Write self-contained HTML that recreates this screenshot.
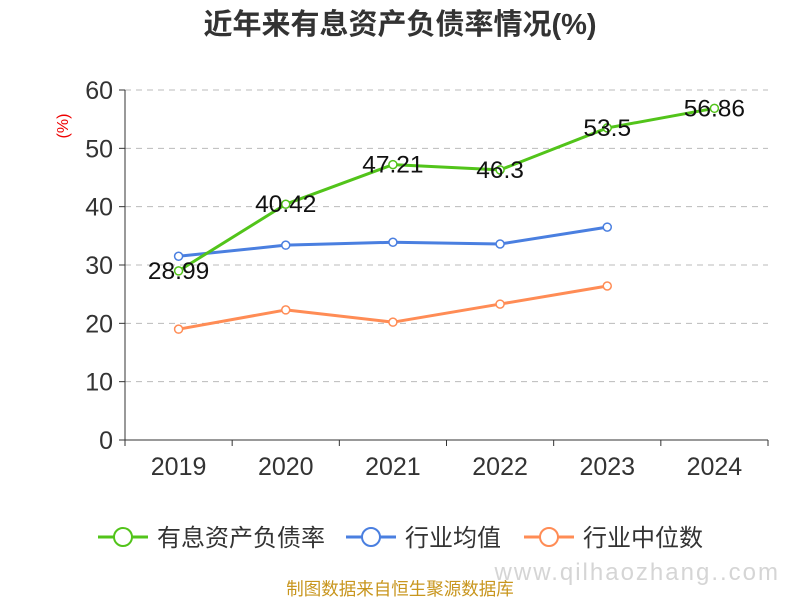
<!DOCTYPE html>
<html><head><meta charset="utf-8"><style>
body{margin:0;background:#fff;}
svg text{font-family:"Liberation Sans","Noto Sans CJK SC",sans-serif;}
</style></head><body>
<svg id="chart" width="800" height="600" xmlns="http://www.w3.org/2000/svg">
<text x="400" y="34" text-anchor="middle" font-size="29" font-weight="bold" fill="#333">近年来有息资产负债率情况(%)</text>
<text x="0" y="0" transform="translate(68,126) rotate(-90)" text-anchor="middle" font-size="16" fill="#e00">(%)</text>
<g id="grid"></g><g id="axes"></g><g id="series"></g>
<g>
 <g><line x1="98" y1="537" x2="148" y2="537" stroke="#52c41a" stroke-width="3"/><circle cx="123" cy="537" r="9" fill="#fff" stroke="#52c41a" stroke-width="2"/><text x="157" y="546" font-size="24" fill="#333">有息资产负债率</text></g>
 <g><line x1="346" y1="537" x2="396" y2="537" stroke="#4a7fe0" stroke-width="3"/><circle cx="371" cy="537" r="9" fill="#fff" stroke="#4a7fe0" stroke-width="2"/><text x="405" y="546" font-size="24" fill="#333">行业均值</text></g>
 <g><line x1="524" y1="537" x2="574" y2="537" stroke="#ff8c55" stroke-width="3"/><circle cx="549" cy="537" r="9" fill="#fff" stroke="#ff8c55" stroke-width="2"/><text x="583" y="546" font-size="24" fill="#333">行业中位数</text></g>
</g>
<text x="400" y="595" text-anchor="middle" font-size="17.5" fill="#c8961e">制图数据来自恒生聚源数据库</text>
<text x="780" y="580" text-anchor="end" font-size="24" fill="#d5d5d5" letter-spacing="2">www.qilhaozhang..com</text>
</svg>
<script>
const categories=["2019","2020","2021","2022","2023","2024"];
const debtRatio=[28.99,40.42,47.21,46.3,53.5,56.86];
const industryAvg=[31.5,33.4,33.9,33.6,36.5];
const industryMedian=[19.0,22.3,20.2,23.3,26.4];
const yTicks=[0,10,20,30,40,50,60];
const NS="http://www.w3.org/2000/svg";
const L=125,R=768,T=90,B=440,yMax=60;
const bw=(R-L)/categories.length;
const xs=i=>L+bw*(i+0.5);
const ys=v=>B-(v/yMax)*(B-T);
function mk(tag,attrs,parent){const e=document.createElementNS(NS,tag);for(const k in attrs)e.setAttribute(k,attrs[k]);parent.appendChild(e);return e;}
const grid=document.getElementById('grid'),axes=document.getElementById('axes'),ser=document.getElementById('series');
yTicks.forEach(t=>{
 if(t>0){const g=mk('line',{x1:L,x2:R,y1:ys(t),y2:ys(t),stroke:'#bbb','stroke-dasharray':'6,5'},grid);
 
 }
 const tk=mk('line',{x1:L-6,x2:L,y1:ys(t),y2:ys(t),stroke:'#333'},axes);
 
 
 const tx=mk('text',{x:L-12,y:ys(t)+9,'text-anchor':'end','font-size':'25',fill:'#333'},axes);tx.textContent=t;
 
 
});
const ya=mk('line',{x1:L,x2:L,y1:T,y2:B,stroke:'#333'},axes);


const xa=mk('line',{x1:L,x2:R,y1:B,y2:B,stroke:'#333'},axes);


for(let i=0;i<=categories.length;i++){const tk=mk('line',{x1:L+bw*i,x2:L+bw*i,y1:B,y2:B+6,stroke:'#333'},axes);
 
 }
categories.forEach((c,i)=>{const tx=mk('text',{x:xs(i),y:B+35,'text-anchor':'middle','font-size':'25',fill:'#333'},axes);tx.textContent=c;
 
 });
function series(vals,color,name,labels){
 const g=mk('g',{},ser);
 
 
 const p=mk('polyline',{points:vals.map((v,i)=>xs(i)+','+ys(v)).join(' '),fill:'none',stroke:color,'stroke-width':3,'stroke-linejoin':'round'},g);
 
 
 vals.forEach((v,i)=>{const c=mk('circle',{cx:xs(i),cy:ys(v),r:4,fill:'#fff',stroke:color,'stroke-width':1.5},g);
  
  
  if(labels){const t=mk('text',{x:xs(i),y:ys(v)+8,'text-anchor':'middle','font-size':'24.5',fill:'#111'},g);t.textContent=v;
   
   }
 });
}
series(industryMedian,'#ff8c55','industry-median-series',false);
series(industryAvg,'#4a7fe0','industry-average-series',false);
series(debtRatio,'#52c41a','debt-ratio-series',true);
</script>
</body></html>
